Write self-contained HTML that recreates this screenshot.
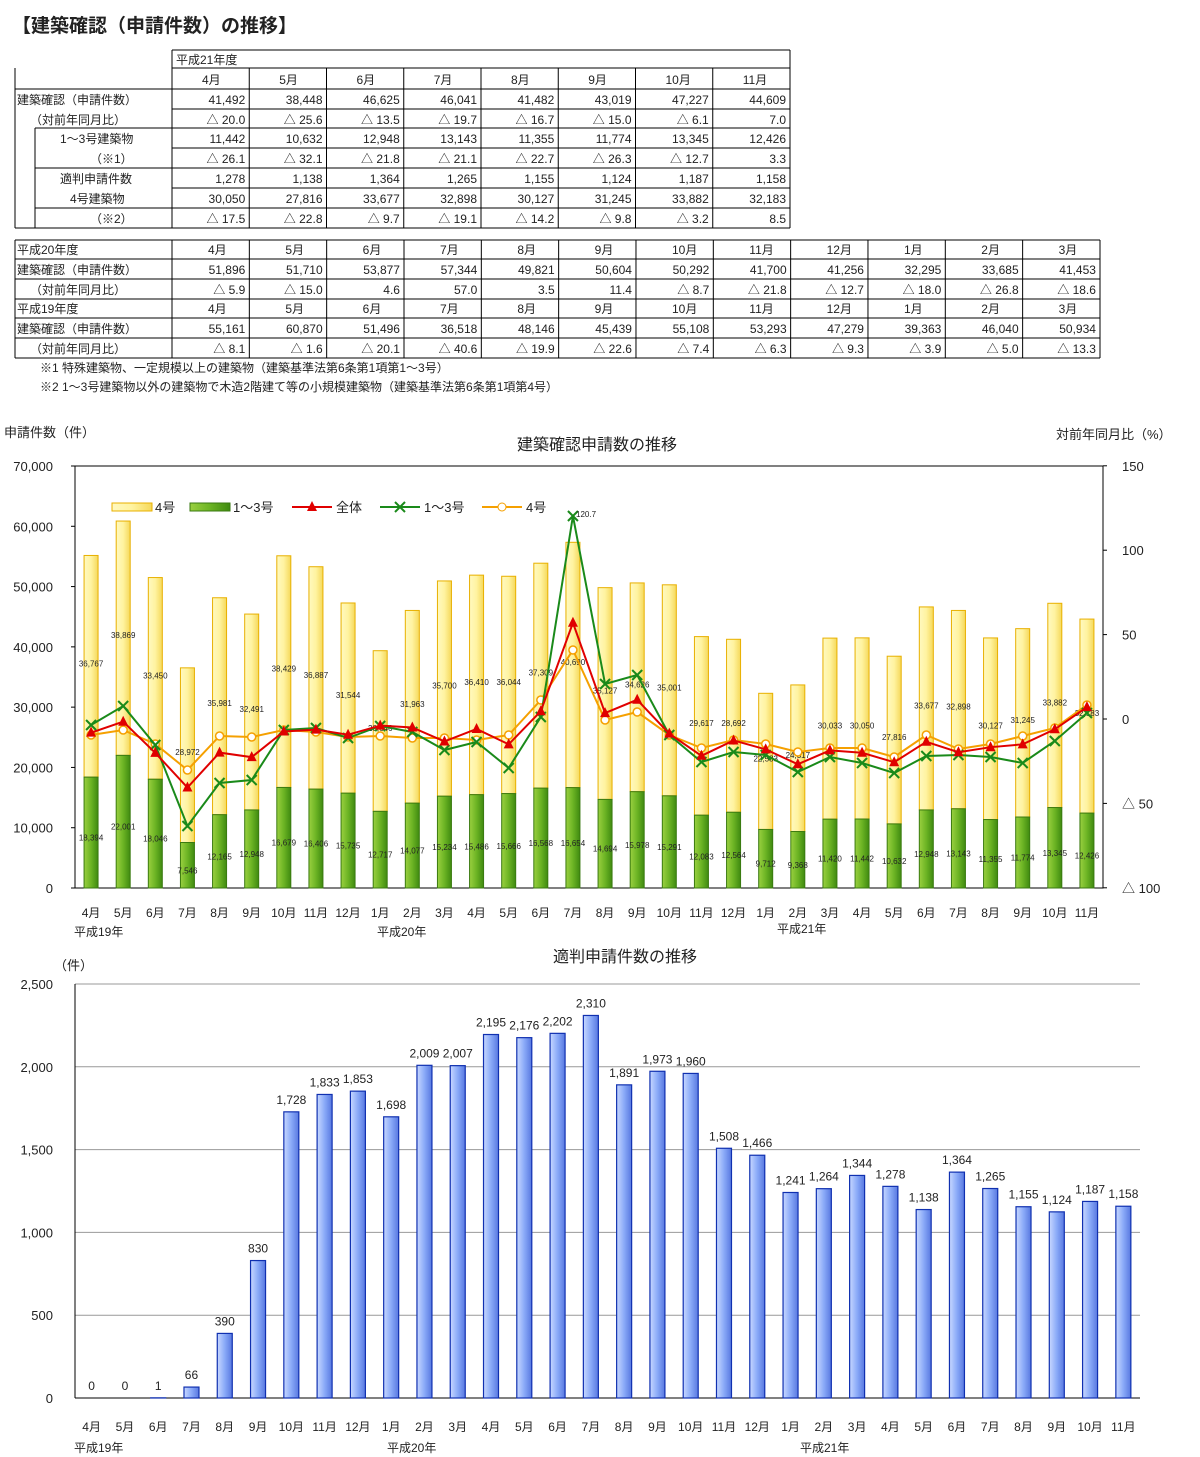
<!DOCTYPE html>
<html><head><meta charset="utf-8">
<style>
body{margin:0;background:#fff;}
svg{display:block;font-family:"Liberation Sans","Noto Sans CJK JP",sans-serif;}
</style></head><body>
<svg id="s" width="1200" height="1457" xmlns="http://www.w3.org/2000/svg">
<defs>
<linearGradient id="gy" x1="0" x2="1"><stop offset="0" stop-color="#fff9c0"/><stop offset="0.5" stop-color="#fff3a0"/><stop offset="1" stop-color="#f5d85a"/></linearGradient>
<linearGradient id="gg" x1="0" x2="1"><stop offset="0" stop-color="#9ad040"/><stop offset="0.5" stop-color="#6cb424"/><stop offset="1" stop-color="#3f8a10"/></linearGradient>
<linearGradient id="gb" x1="0" x2="1"><stop offset="0" stop-color="#c8d8ff"/><stop offset="0.5" stop-color="#8aaaf8"/><stop offset="1" stop-color="#5878e0"/></linearGradient>
</defs>
</svg>
<script>
const S=document.getElementById('s');const NS='http://www.w3.org/2000/svg';
function el(t,a,txt){const e=document.createElementNS(NS,t);for(const k in a)e.setAttribute(k,a[k]);if(txt!==undefined)e.textContent=txt;S.appendChild(e);return e;}
function tx(x,y,s,o={}){return el('text',Object.assign({x:x,y:y,'font-size':12,fill:'#222'},o),s);}
function ln(x1,y1,x2,y2,c='#000',w=1){el('line',{x1,y1,x2,y2,stroke:c,'stroke-width':w});}
tx(12,32,'【建築確認（申請件数）の推移】',{'font-size':19,'font-weight':'bold'});
// Table 1
const ys1=[50,68,89,109,128,148,168,188,208,228];
const cw1=77.25,x01=172;
ln(172,50,790,50);
for(let i=1;i<ys1.length;i++){const y=ys1[i];const xs=(i>=4&&i<ys1.length-1&&i!=5&&i!=7)?35:15;ln((i==1)?172:(i==2?15:(i==3?172:(i>=4&&i<=8?((i==4||i==6||i==8)?35:172):15))),y,790,y);}
ln(15,228,790,228);ln(15,68,15,228);ln(35,128,35,228);ln(172,50,172,228);ln(790,50,790,228);
for(let j=1;j<8;j++)ln(x01+j*cw1,68,x01+j*cw1,228);
tx(176,64,'平成21年度');
const m1=['4月','5月','6月','7月','8月','9月','10月','11月'];
m1.forEach((m,j)=>tx(x01+j*cw1+30,84,m));
const t1=[['41,492','38,448','46,625','46,041','41,482','43,019','47,227','44,609'],
['△ 20.0','△ 25.6','△ 13.5','△ 19.7','△ 16.7','△ 15.0','△ 6.1','7.0'],
['11,442','10,632','12,948','13,143','11,355','11,774','13,345','12,426'],
['△ 26.1','△ 32.1','△ 21.8','△ 21.1','△ 22.7','△ 26.3','△ 12.7','3.3'],
['1,278','1,138','1,364','1,265','1,155','1,124','1,187','1,158'],
['30,050','27,816','33,677','32,898','30,127','31,245','33,882','32,183'],
['△ 17.5','△ 22.8','△ 9.7','△ 19.1','△ 14.2','△ 9.8','△ 3.2','8.5']];
const lab1=[[17,'建築確認（申請件数）'],[30,'（対前年同月比）'],[60,'1～3号建築物'],[90,'（※1）'],[60,'適判申請件数'],[70,'4号建築物'],[90,'（※2）']];
t1.forEach((r,i)=>{const y=ys1[i+2]+15;tx(lab1[i][0],y,lab1[i][1]);r.forEach((v,j)=>tx(x01+(j+1)*cw1-4,y,v,{'text-anchor':'end'}));});
// Table 2
const ys2=[240,259,279,299,318,338,358],cw2=77.33;
ys2.forEach((y,i)=>ln(15,y,1100,y));
ln(15,240,15,358);ln(1100,240,1100,358);
for(let j=0;j<12;j++)ln(x01+j*cw2,240,x01+j*cw2,358);
const m2=['4月','5月','6月','7月','8月','9月','10月','11月','12月','1月','2月','3月'];
const t2=[['51,896','51,710','53,877','57,344','49,821','50,604','50,292','41,700','41,256','32,295','33,685','41,453'],
['△ 5.9','△ 15.0','4.6','57.0','3.5','11.4','△ 8.7','△ 21.8','△ 12.7','△ 18.0','△ 26.8','△ 18.6'],
['55,161','60,870','51,496','36,518','48,146','45,439','55,108','53,293','47,279','39,363','46,040','50,934'],
['△ 8.1','△ 1.6','△ 20.1','△ 40.6','△ 19.9','△ 22.6','△ 7.4','△ 6.3','△ 9.3','△ 3.9','△ 5.0','△ 13.3']];
tx(17,254,'平成20年度');tx(17,313,'平成19年度');
[254,313].forEach(y=>m2.forEach((m,j)=>tx(x01+j*cw2+36,y,m)));
[[274,0],[294,1],[333,2],[353,3]].forEach(([y,k])=>{tx(k%2?30:17,y,k%2?'（対前年同月比）':'建築確認（申請件数）');t2[k].forEach((v,j)=>tx(x01+(j+1)*cw2-4,y,v,{'text-anchor':'end'}));});
tx(40,372,'※1  特殊建築物、一定規模以上の建築物（建築基準法第6条第1項第1～3号）');
tx(40,391,'※2  1～3号建築物以外の建築物で木造2階建て等の小規模建築物（建築基準法第6条第1項第4号）');
// Chart 1
const tot=[55161,60870,51496,36518,48146,45439,55108,53293,47279,39363,46040,50934,51896,51710,53877,57344,49821,50604,50292,41700,41256,32295,33685,41453,41492,38448,46625,46041,41482,43019,47227,44609];
const gr=[18394,22001,18046,7546,12165,12948,16679,16406,15735,12717,14077,15234,15486,15666,16568,16654,14694,15978,15291,12083,12564,9712,9368,11420,11442,10632,12948,13143,11355,11774,13345,12426];
const yoy=[-8.1,-1.6,-20.1,-40.6,-19.9,-22.6,-7.4,-6.3,-9.3,-3.9,-5.0,-13.3,-5.9,-15.0,4.6,57.0,3.5,11.4,-8.7,-21.8,-12.7,-18.0,-26.8,-18.6,-20.0,-25.6,-13.5,-19.7,-16.7,-15.0,-6.1,7.0];
const gl=[725,706,745,826,783,780,730,728,738,726,732,750,742,768,717,516,684,675,735,762,752,755,772,757,763,773,756,755,757,763,741,713];
const ol=[735,730,744,770,736,737,730,732,737,736,738,738,740,735,700,650,720,712,735,748,740,744,752,748,748,757,735,749,744,736,728,705];
const L=75,R=1103,T=466,B=888,bw=(R-L)/32;
const yv=v=>B-v*(B-T)/70000, yp=p=>719-p*1.688;
el('rect',{x:L,y:T,width:R-L,height:B-T,fill:'none',stroke:'#000'});
for(let v=0;v<=70000;v+=10000){tx(L-22,yv(v)+5,v.toLocaleString('en-US'),{'text-anchor':'end','font-size':13});ln(L-4,yv(v),L,yv(v));}
[[150,'150'],[100,'100'],[50,'50'],[0,'0'],[-50,'△ 50'],[-100,'△ 100']].forEach(([p,s])=>{tx(1122,yp(p)+5,s,{'font-size':13});ln(R,yp(p),R+4,yp(p));});
tx(4,437,'申請件数（件）',{'font-size':13});tx(1056,439,'対前年同月比（%）',{'font-size':13});
tx(517,450,'建築確認申請数の推移',{'font-size':16});
const mm=['4月','5月','6月','7月','8月','9月','10月','11月','12月','1月','2月','3月'];
for(let i=0;i<32;i++){const cx=L+bw*(i+.5),w=14;
el('rect',{x:cx-w/2,y:yv(tot[i]),width:w,height:yv(gr[i])-yv(tot[i]),fill:'url(#gy)',stroke:'#e8b000','stroke-width':1});
el('rect',{x:cx-w/2,y:yv(gr[i]),width:w,height:B-yv(gr[i]),fill:'url(#gg)',stroke:'#3a7a10','stroke-width':1});
tx(cx,(yv(tot[i])+yv(gr[i]))/2,(tot[i]-gr[i]).toLocaleString('en-US'),{'font-size':8,'text-anchor':'middle'});
tx(cx,(yv(gr[i])+B)/2+8,gr[i].toLocaleString('en-US'),{'font-size':8,'text-anchor':'middle'});
tx(cx,917,mm[i%12],{'font-size':12,'text-anchor':'middle'});}
tx(74,936,'平成19年',{'font-size':12});tx(377,936,'平成20年',{'font-size':12});tx(777,933,'平成21年',{'font-size':12});
function poly(ys,c,mk){const p=ys.map((y,i)=>(L+bw*(i+.5))+','+y).join(' ');el('polyline',{points:p,fill:'none',stroke:c,'stroke-width':2});
ys.forEach((y,i)=>{const x=L+bw*(i+.5);if(mk=='x'){ln(x-5,y-5,x+5,y+5,c,2);ln(x-5,y+5,x+5,y-5,c,2);}else if(mk=='o')el('circle',{cx:x,cy:y,r:4,fill:'#fff',stroke:c,'stroke-width':1.5});else el('polygon',{points:`${x},${y-6} ${x-5},${y+4} ${x+5},${y+4}`,fill:c});});}
poly(ol,'#f5a000','o');poly(gl,'#1a8a1a','x');poly(yoy.map(yp),'#e00000','t');
tx(576,517,'120.7',{'font-size':8});
// legend
el('rect',{x:112,y:503,width:40,height:8,fill:'url(#gy)',stroke:'#e8b000'});tx(155,512,'4号',{'font-size':13});
el('rect',{x:190,y:503,width:40,height:8,fill:'url(#gg)',stroke:'#3a7a10'});tx(233,512,'1～3号',{'font-size':13});
ln(292,507,332,507,'#e00000',2);el('polygon',{points:'312,501 307,511 317,511',fill:'#e00000'});tx(336,512,'全体',{'font-size':13});
ln(380,507,420,507,'#1a8a1a',2);ln(395,502,405,512,'#1a8a1a',2);ln(395,512,405,502,'#1a8a1a',2);tx(424,512,'1～3号',{'font-size':13});
ln(482,507,522,507,'#f5a000',2);el('circle',{cx:502,cy:507,r:4,fill:'#fff',stroke:'#f5a000'});tx(526,512,'4号',{'font-size':13});
// Chart 2
const tk=[0,0,1,66,390,830,1728,1833,1853,1698,2009,2007,2195,2176,2202,2310,1891,1973,1960,1508,1466,1241,1264,1344,1278,1138,1364,1265,1155,1124,1187,1158];
const L2=75,R2=1140,B2=1398,T2=984,bw2=(R2-L2)/32,y2=v=>B2-v*(B2-T2)/2500;
tx(553,962,'適判申請件数の推移',{'font-size':16});tx(54,970,'（件）',{'font-size':13});
for(let v=0;v<=2500;v+=500){ln(L2,y2(v),R2,y2(v),v?'#999':'#000',1);tx(L2-22,y2(v)+5,v.toLocaleString('en-US'),{'text-anchor':'end','font-size':13});}
ln(L2,T2,L2,B2);
for(let i=0;i<32;i++){const cx=L2+bw2*(i+.5),w=15;
if(tk[i]>0)el('rect',{x:cx-w/2,y:y2(tk[i]),width:w,height:B2-y2(tk[i]),fill:'url(#gb)',stroke:'#1030b0','stroke-width':1.2});
tx(cx,y2(tk[i])-8,tk[i].toLocaleString('en-US'),{'font-size':12,'text-anchor':'middle'});
tx(cx,1431,mm[i%12],{'font-size':12,'text-anchor':'middle'});}
tx(74,1452,'平成19年',{'font-size':12});tx(387,1452,'平成20年',{'font-size':12});tx(800,1452,'平成21年',{'font-size':12});
</script>
</body></html>
